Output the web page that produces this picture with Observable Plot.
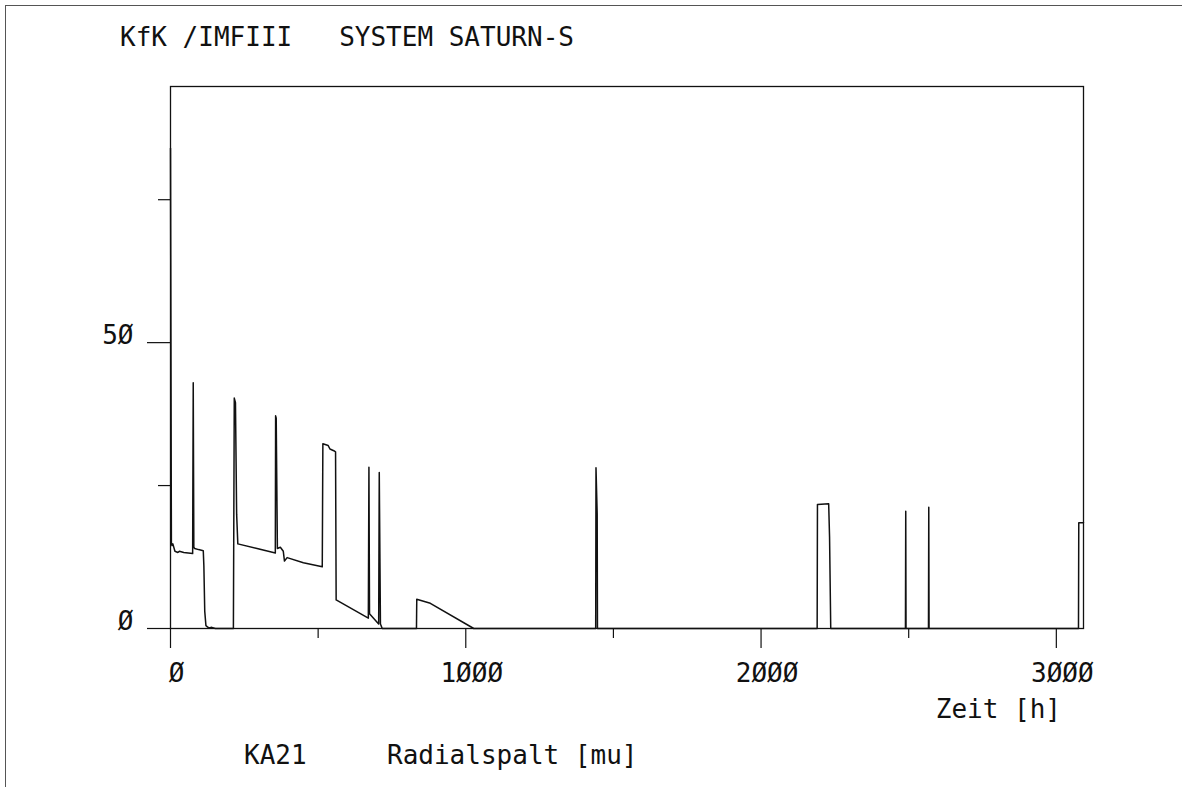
<!DOCTYPE html>
<html>
<head>
<meta charset="utf-8">
<script src="https://cdn.jsdelivr.net/npm/d3@7"></script>
<script src="https://cdn.jsdelivr.net/npm/@observablehq/plot@0.6"></script>
<style>
  html, body { margin: 0; padding: 0; background: #fff; }
  #wrap { position: relative; width: 1182px; height: 787px; overflow: hidden; background: #fff; }
  #wrap svg { position: absolute; left: 0; top: 0; }
  .t { position: absolute; font-family: "DejaVu Sans Mono", monospace; font-size: 26px; color: #111; white-space: pre; line-height: 1; transform: translateY(-50%); }
  #border { position: absolute; left: 5px; top: 5px; width: 1200px; height: 800px; border-top: 1px solid #555; border-left: 1px solid #555; }
</style>
</head>
<body>
<div id="wrap">
  <div id="border"></div>
</div>
<script>
// Time in hours
const times = [
  0, 3, 5, 8, 15, 25, 30, 45, 75, 77, 79, 82, 95, 111, 113, 116, 120, 125, 130, 140, 152,
  213, 216, 220, 224, 228, 300, 355, 356, 358, 362, 372, 382, 386, 395, 450, 514,
  516, 534, 540, 553, 559, 561, 670, 672, 674, 705, 707, 711, 717,
  833, 834, 880, 1027,
  1440, 1441, 1445, 1446,
  2190, 2191, 2229, 2232, 2236,
  2489, 2490, 2491,
  2567, 2568, 2569,
  3075, 3076, 3092
];
// Radialspalt [mu]
const gaps = [
  84, 15, 14.5, 14.8, 13.5, 13.3, 13.5, 13.3, 13.1, 43, 14.2, 14.0, 13.8, 13.6, 11, 3, 0.5, 0.3, 0.1, 0.2, 0,
  0, 40.3, 39.5, 20, 14.8, 13.9, 13.2, 37.2, 36.8, 14.0, 14.2, 13.5, 11.8, 12.4, 11.5, 10.8,
  32.3, 32.0, 31.4, 31.1, 30.9, 5.0, 1.8, 28.2, 2.6, 0.8, 27.3, 0.8, 0,
  0, 5.1, 4.4, 0,
  0, 28.1, 20, 0,
  0, 21.7, 21.8, 16, 0,
  0, 20.5, 0,
  0, 21.2, 0,
  0, 18.5, 18.5
];
const xMajorTicks = [0, 1000, 2000, 3000];
const xMajorLabels = ["Ø", "1ØØØ", "2ØØØ", "3ØØØ"];
const xMinorTicks = [500, 1500, 2500];
const yMajorTicks = [0, 50];
const yMajorLabels = ["Ø", "5Ø"];
const yMinorTicks = [25, 75];
const titleText = "KfK /IMFIII   SYSTEM SATURN-S";
const xTitle = "Zeit [h]";
const curveId = "KA21";
const yTitle = "Radialspalt [mu]";

const data = times.map((t, i) => ({t, v: gaps[i]}));

const chart = Plot.plot({
  width: 1182,
  height: 787,
  marginLeft: 170,
  marginTop: 86,
  marginRight: 99,
  marginBottom: 159,
  style: {fontFamily: "DejaVu Sans Mono, monospace", fontSize: "26px", color: "#111", background: "transparent"},
  x: {domain: [0, 3092], label: null},
  y: {domain: [0, 94.8], label: null},
  marks: [
    Plot.frame({stroke: "#111", strokeWidth: 1.3}),
    Plot.axisX({ticks: xMajorTicks, tickSize: 20, strokeWidth: 1.2, tickFormat: () => ""}),
    Plot.axisX({ticks: xMinorTicks, tickSize: 10, strokeWidth: 1.2, tickFormat: () => ""}),
    Plot.axisY({ticks: yMajorTicks, tickSize: 23, strokeWidth: 1.2, tickFormat: () => ""}),
    Plot.axisY({ticks: yMinorTicks, tickSize: 12, strokeWidth: 1.2, tickFormat: () => ""}),
    Plot.text(xMajorTicks, {x: d => d, text: (d, i) => xMajorLabels[i], frameAnchor: "bottom",
      dy: 45, dx: 6, lineAnchor: "middle", fontSize: 26, fill: "#111"}),
    Plot.text(yMajorTicks, {y: d => d, text: (d, i) => yMajorLabels[i], frameAnchor: "left",
      dx: -37, dy: -7, textAnchor: "end", lineAnchor: "middle", fontSize: 26, fill: "#111"}),
    Plot.line(data, {x: "t", y: "v", stroke: "#111", strokeWidth: 1.5})
  ]
});

const wrap = document.getElementById("wrap");
wrap.appendChild(chart);

function addText(str, x, y) {
  const d = document.createElement("div");
  d.className = "t";
  d.textContent = str;
  d.style.left = x + "px";
  d.style.top = y + "px";
  wrap.appendChild(d);
  return d;
}
addText(titleText, 120, 37);
const zt = addText(xTitle, 0, 709);
zt.style.left = (1061 - zt.getBoundingClientRect().width) + "px";
addText(curveId, 244, 755);
addText(yTitle, 387, 755);
</script>
</body>
</html>
